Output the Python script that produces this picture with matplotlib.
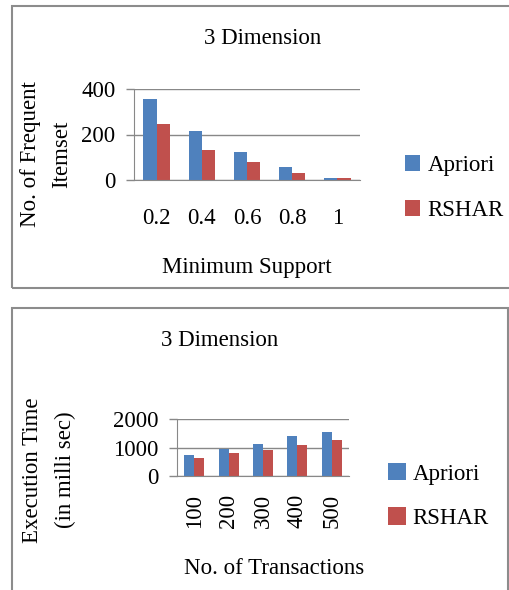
import numpy as np
import matplotlib
matplotlib.use('Agg')
import matplotlib.pyplot as plt
from matplotlib.patches import Rectangle

# data
support = ['0.2', '0.4', '0.6', '0.8', '1']
freq_apriori = [357, 215, 121, 59, 10]
freq_rshar = [246, 130, 77, 32, 10]

transactions = ['100', '200', '300', '400', '500']
time_apriori = [737, 947, 1123, 1404, 1544]
time_rshar = [632, 807, 912, 1088, 1263]

series_names = ['Apriori', 'RSHAR']
blue = '#4F81BD'
red = '#C0504D'
grid_gray = '#888888'

plt.rcParams['font.family'] = ['Liberation Serif', 'DejaVu Serif']
plt.rcParams['font.size'] = 16.5

W, H = 509, 590
fig = plt.figure(figsize=(W / 100, H / 100), dpi=100)


def fx(px):
    return px / W


def fy(py):
    return 1 - py / H


# chart boxes
fig.patches.append(Rectangle((fx(12), fy(288)), fx(520) - fx(12), fy(6) - fy(288),
                             transform=fig.transFigure, fill=False,
                             edgecolor='#8c8c8c', lw=1.5))
fig.patches.append(Rectangle((fx(12), fy(600)), fx(508) - fx(12), fy(308) - fy(600),
                             transform=fig.transFigure, fill=False,
                             edgecolor='#8c8c8c', lw=1.5))


def style_axes(ax, ymax, ystep):
    ax.set_ylim(0, ymax)
    ax.set_yticks(np.arange(0, ymax + 1, ystep))
    ax.yaxis.grid(True, color=grid_gray, lw=1.0)
    ax.set_axisbelow(True)
    for s in ['top', 'right']:
        ax.spines[s].set_visible(False)
    ax.spines['left'].set_color(grid_gray)
    ax.spines['bottom'].set_color(grid_gray)
    ax.tick_params(axis='y', length=5.5, width=1.0, color=grid_gray, pad=8)
    ax.tick_params(axis='x', length=0)


# top chart
ax1 = fig.add_axes([fx(134), fy(180), fx(360) - fx(134), fy(89) - fy(180)])
x = np.arange(len(support))
w = 0.29
ax1.bar(x - w / 2, freq_apriori, w, color=blue, label=series_names[0])
ax1.bar(x + w / 2, freq_rshar, w, color=red, label=series_names[1])
ax1.set_xlim(-0.5, len(support) - 0.5)
style_axes(ax1, 400, 200)
ax1.set_xticks(x)
ax1.set_xticklabels(support)
ax1.tick_params(axis='x', pad=20)
ax1.legend(loc='center left', bbox_to_anchor=(fx(396), fy(188)),
           bbox_transform=fig.transFigure, frameon=False,
           handlelength=0.65, handleheight=0.7, handletextpad=0.33,
           labelspacing=1.05, borderaxespad=0)
fig.text(fx(263), fy(39), '3 Dimension', ha='center', va='center')
fig.text(fx(247), fy(268), 'Minimum Support', ha='center', va='center')
fig.text(fx(31), fy(154), 'No. of Frequent', rotation=90, ha='center', va='center')
fig.text(fx(62), fy(154), 'Itemset', rotation=90, ha='center', va='center')

# bottom chart
ax2 = fig.add_axes([fx(177), fy(476), fx(349) - fx(177), fy(419) - fy(476)])
x2 = np.arange(len(transactions))
w2 = 0.29
ax2.bar(x2 - w2 / 2, time_apriori, w2, color=blue, label=series_names[0])
ax2.bar(x2 + w2 / 2, time_rshar, w2, color=red, label=series_names[1])
ax2.set_xlim(-0.5, len(transactions) - 0.5)
style_axes(ax2, 2000, 1000)
ax2.set_xticks(x2)
ax2.set_xticklabels(transactions, rotation=90)
ax2.tick_params(axis='x', pad=13)
ax2.legend(loc='center left', bbox_to_anchor=(fx(379), fy(496)),
           bbox_transform=fig.transFigure, frameon=False,
           handlelength=0.78, handleheight=0.8, handletextpad=0.28,
           labelspacing=1.0, borderaxespad=0)
fig.text(fx(220), fy(340), '3 Dimension', ha='center', va='center')
fig.text(fx(274), fy(569), 'No. of Transactions', ha='center', va='center')
fig.text(fx(33), fy(470), 'Execution Time', rotation=90, ha='center', va='center')
fig.text(fx(65), fy(470), '(in milli sec)', rotation=90, ha='center', va='center')

fig.savefig('out.png', dpi=100)
